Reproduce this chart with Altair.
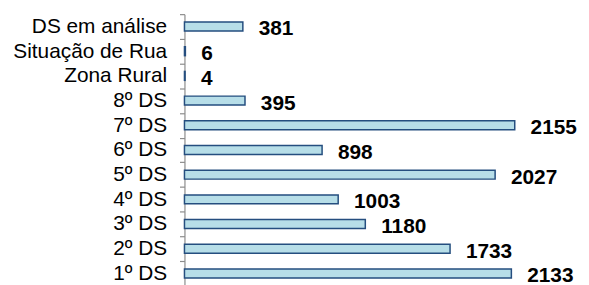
import altair as alt
import pandas as pd

categories = ["DS em análise", "Situação de Rua", "Zona Rural", "8º DS", "7º DS",
              "6º DS", "5º DS", "4º DS", "3º DS", "2º DS", "1º DS"]
values = [381, 6, 4, 395, 2155, 898, 2027, 1003, 1180, 1733, 2133]

df = pd.DataFrame({"cat": categories, "val": values})

FONT = "Liberation Sans"

y_enc = alt.Y("cat:N", sort=categories, title=None,
              scale=alt.Scale(paddingInner=0, paddingOuter=0, range=[0, 274]),
              axis=alt.Axis(tickBand="extent", domainColor="#8C8C8C", tickColor="#8C8C8C",
                            tickSize=5, labelPadding=13, labelFont=FONT, labelFontSize=21,
                            labelColor="#000000", domainWidth=1.2, tickWidth=1.2,
                            labelLimit=400))
x_enc = alt.X("val:Q", axis=None, scale=alt.Scale(domain=[0, 2555], nice=False, zero=True))

bars = alt.Chart(df).mark_bar(size=9, fill="#B7DEE8", stroke="#254E7F", strokeWidth=1.5).encode(
    x=x_enc, y=y_enc)

labels = alt.Chart(df).mark_text(align="left", baseline="alphabetic", dx=16, dy=9,
                                 font=FONT, fontSize=21, fontWeight="bold", color="#000000").encode(
    x=x_enc, y=alt.Y("cat:N", sort=categories), text="val:Q")

chart = alt.layer(bars, labels).properties(
    width=395, height=272,
    autosize=alt.AutoSizeParams(type="none"),
    padding={"left": 178, "top": 5, "right": 5, "bottom": 0},
).configure_view(stroke=None).configure_axis(grid=False)

chart.save("out.html", embed_options={"renderer": "svg", "actions": False})
